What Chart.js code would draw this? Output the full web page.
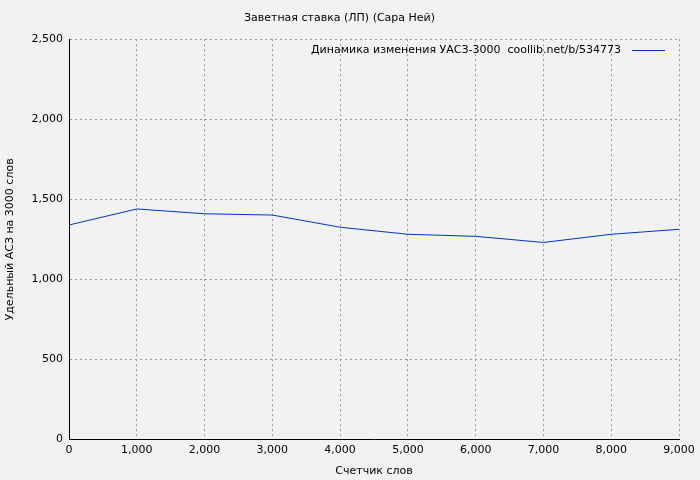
<!DOCTYPE html>
<html><head><meta charset="utf-8">
<script src="https://cdn.jsdelivr.net/npm/chart.js"></script>
<style>body{margin:0;background:#f2f2f2}</style>
</head><body><canvas id="LineChart" width="700" height="480"></canvas>
<script>
const ctx = document.getElementById('LineChart');
const words = [0, 1000, 2000, 3000, 4000, 5000, 6000, 7000, 8000, 9000];
const asz = [1340, 1440, 1410, 1402, 1326, 1282, 1269, 1231, 1282, 1313];
const legendText = 'Динамика изменения УАСЗ-3000  coollib.net/b/534773';

Chart.defaults.font.family = 'DejaVu Sans';
Chart.defaults.font.size = 11;
Chart.defaults.color = '#000';

// legend drawn by hand: text first, then line sample
const legendPlugin = {
  id: 'legendRight',
  afterDraw(chart){
    const c = chart.ctx;
    c.save();
    c.font = '11px DejaVu Sans';
    c.fillStyle = '#000';
    c.textAlign = 'right';
    c.textBaseline = 'middle';
    c.fillText(legendText, 621, 50);
    c.strokeStyle = '#0033cc';
    c.lineWidth = 1;
    c.beginPath(); c.moveTo(632, 50.5); c.lineTo(665, 50.5); c.stroke();
    c.restore();
  }
};

new Chart(ctx, {
  type: 'line',
  data: {
    datasets: [{
      data: words.map((w, i) => ({x: w, y: asz[i]})),
      borderColor: '#0033cc',
      borderWidth: 1,
      pointRadius: 0,
      tension: 0
    }]
  },
  options: {
    responsive: false,
    animation: false,
    layout: {padding: {left: 0, right: 21, top: 0, bottom: 0}},
    plugins: {
      legend: {display: false},
      tooltip: {enabled: false},
      title: {display: true, text: 'Заветная ставка (ЛП) (Сара Ней)', font: {size: 11, weight: 'normal'}, padding: {top: 12, bottom: 14}}
    },
    scales: {
      x: {
        type: 'linear', min: 0, max: 9000,
        ticks: {stepSize: 1000, padding: 4},
        grid: {color: '#999', drawTicks: false},
        border: {color: '#000', dash: [2, 3]},
        title: {display: true, text: 'Счетчик слов', padding: {top: 4, bottom: 2}}
      },
      y: {
        min: 0, max: 2500,
        ticks: {stepSize: 500, padding: 6},
        grid: {color: '#999', drawTicks: false},
        border: {color: '#000', dash: [2, 3]},
        afterFit(s){ s.width = 69; },
        title: {display: true, text: 'Удельный АСЗ на 3000 слов', padding: {bottom: 4}}
      }
    }
  },
  plugins: [legendPlugin]
});
</script></body></html>
